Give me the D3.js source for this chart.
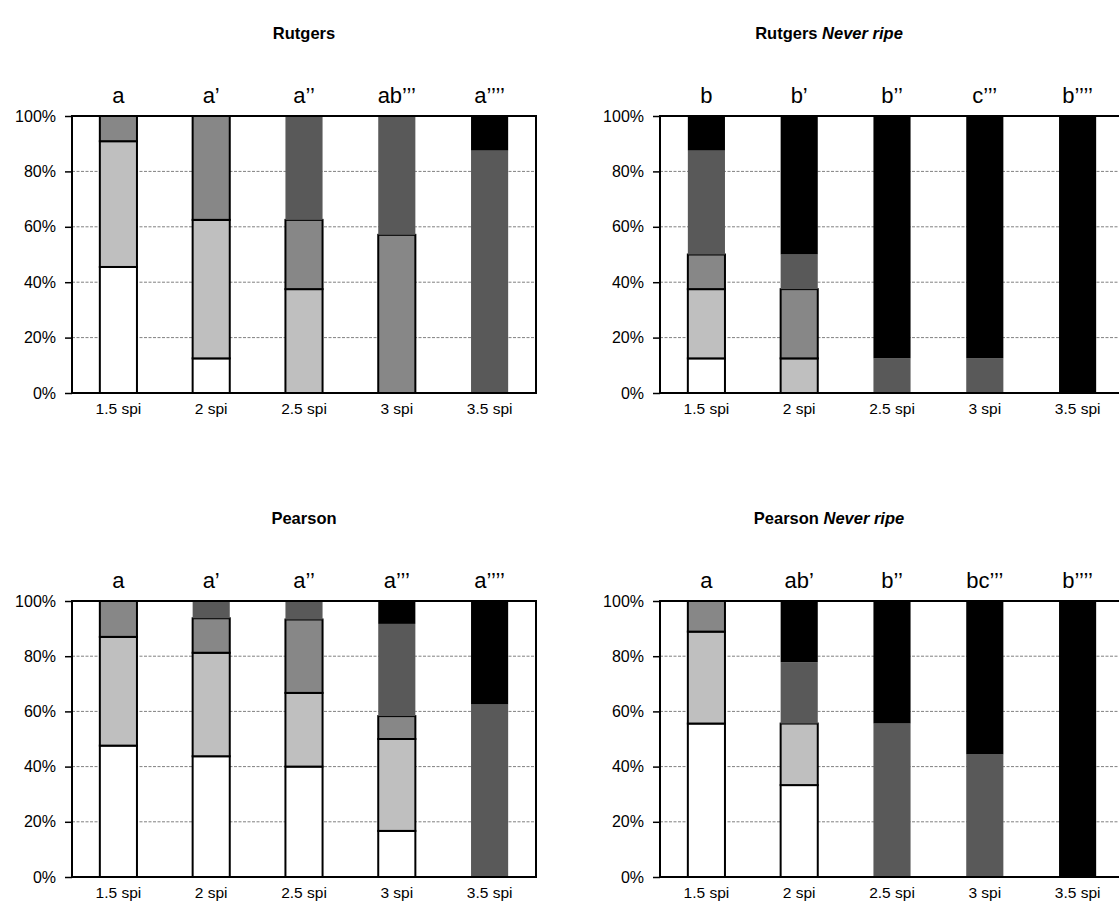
<!DOCTYPE html>
<html>
<head>
<meta charset="utf-8">
<script src="https://cdn.jsdelivr.net/npm/d3@7"></script>
<style>
  body { margin: 0; background: #fff; }
  svg text { font-family: "Liberation Sans", Arial, sans-serif; fill: #000; }
</style>
</head>
<body>
<svg id="chart" width="1119" height="909"></svg>
<script>
// Time points (spikelets per inflorescence) shared by all four panels
const categories = ["1.5 spi", "2 spi", "2.5 spi", "3 spi", "3.5 spi"];
// Ripening stages, bottom to top of each stack
const stageKeys = ["s1", "s2", "s3", "s4", "s5"];
const stageColors = ["#ffffff", "#bfbfbf", "#878787", "#595959", "#000000"];
const stageOutlined = [true, true, true, false, false];
const yTicks = [0, 0.2, 0.4, 0.6, 0.8, 1];

// Percentage of fruits in each stage; one row per time point, stages s1..s5
const rutgersValues = [
  [45.5, 45.4, 9.1, 0, 0],
  [12.5, 50, 37.5, 0, 0],
  [0, 37.5, 25, 37.5, 0],
  [0, 0, 57.1, 42.9, 0],
  [0, 0, 0, 87.5, 12.5]
];
const rutgersNrValues = [
  [12.5, 25, 12.5, 37.5, 12.5],
  [0, 12.5, 25, 12.5, 50],
  [0, 0, 0, 12.5, 87.5],
  [0, 0, 0, 12.5, 87.5],
  [0, 0, 0, 0, 100]
];
const pearsonValues = [
  [47.6, 39.4, 13, 0, 0],
  [43.75, 37.5, 12.5, 6.25, 0],
  [40, 26.7, 26.6, 6.7, 0],
  [16.7, 33.3, 8.3, 33.4, 8.3],
  [0, 0, 0, 62.5, 37.5]
];
const pearsonNrValues = [
  [55.6, 33.3, 11.1, 0, 0],
  [33.3, 22.3, 0, 22.2, 22.2],
  [0, 0, 0, 55.6, 44.4],
  [0, 0, 0, 44.4, 55.6],
  [0, 0, 0, 0, 100]
];

// Significance letters above each bar
const rutgersLetters = ["a", "a’", "a’’", "ab’’’", "a’’’’"];
const rutgersNrLetters = ["b", "b’", "b’’", "c’’’", "b’’’’"];
const pearsonLetters = ["a", "a’", "a’’", "a’’’", "a’’’’"];
const pearsonNrLetters = ["a", "ab’", "b’’", "bc’’’", "b’’’’"];

const svg = d3.select("#chart");

function drawPanel(p) {
  const g = svg.append("g");
  const x = d3.scaleBand().domain(categories)
    .range([p.left, p.left + p.width])
    .paddingInner(0.6).paddingOuter(0.3);
  const y = d3.scaleLinear().domain([0, 1]).range([p.top + p.height, p.top]);

  // dashed horizontal gridlines
  g.append("g").selectAll("line")
    .data(yTicks.filter(t => t > 0 && t < 1))
    .join("line")
    .attr("x1", p.left).attr("x2", p.left + p.width)
    .attr("y1", d => y(d)).attr("y2", d => y(d))
    .attr("stroke", "#808080").attr("stroke-width", 1)
    .attr("stroke-dasharray", "3,1.5");

  const rows = categories.map((c, i) => {
    const r = { cat: c };
    stageKeys.forEach((k, j) => r[k] = p.values[i][j] / 100);
    return r;
  });
  const series = d3.stack().keys(stageKeys)(rows);

  series.forEach((s, si) => {
    g.append("g").selectAll("rect")
      .data(s.filter(d => d[1] - d[0] > 0))
      .join("rect")
      .attr("x", d => x(d.data.cat))
      .attr("width", x.bandwidth())
      .attr("y", d => y(d[1]))
      .attr("height", d => y(d[0]) - y(d[1]))
      .attr("fill", stageColors[si])
      .attr("stroke", stageOutlined[si] ? "#000" : "none")
      .attr("stroke-width", 2);
  });

  // plot frame
  g.append("rect")
    .attr("x", p.left).attr("y", p.top)
    .attr("width", p.width).attr("height", p.height)
    .attr("fill", "none").attr("stroke", "#000").attr("stroke-width", 2);

  // y axis
  const ya = g.append("g").attr("transform", `translate(${p.left},0)`)
    .call(d3.axisLeft(y).tickValues(yTicks).tickFormat(d3.format(".0%"))
      .tickSize(7).tickPadding(9));
  ya.select(".domain").remove();
  ya.selectAll(".tick line").attr("stroke", "#000").attr("stroke-width", 1.5);
  ya.selectAll("text").attr("font-size", 16).attr("fill", "#222")
    .style("font-family", "'Liberation Sans', Arial, sans-serif");

  // x axis labels
  const xa = g.append("g").attr("transform", `translate(0,${p.top + p.height})`)
    .call(d3.axisBottom(x).tickSize(0).tickPadding(10));
  xa.select(".domain").remove();
  xa.selectAll("text").attr("font-size", 15.5).attr("fill", "#222")
    .style("font-family", "'Liberation Sans', Arial, sans-serif");

  // significance letters
  g.append("g").selectAll("text")
    .data(p.letters)
    .join("text")
    .attr("x", (d, i) => x(categories[i]) + x.bandwidth() / 2)
    .attr("y", p.top - 13)
    .attr("text-anchor", "middle")
    .attr("font-size", 22)
    .text(d => d);

  // title
  const t = g.append("text")
    .attr("x", p.titleX).attr("y", p.top - 77)
    .attr("text-anchor", "middle")
    .attr("font-size", 16.5).attr("font-weight", "bold");
  t.append("tspan").text(p.title);
  if (p.italic) t.append("tspan").attr("font-style", "italic").text(" " + p.italic);
}

const W = 464, H = 277;
drawPanel({ left: 72, top: 116, width: W, height: H, titleX: 304,
  title: "Rutgers", values: rutgersValues, letters: rutgersLetters });
drawPanel({ left: 660, top: 116, width: W, height: H, titleX: 829,
  title: "Rutgers", italic: "Never ripe", values: rutgersNrValues, letters: rutgersNrLetters });
drawPanel({ left: 72, top: 601, width: W, height: 276, titleX: 304,
  title: "Pearson", values: pearsonValues, letters: pearsonLetters });
drawPanel({ left: 660, top: 601, width: W, height: 276, titleX: 829,
  title: "Pearson", italic: "Never ripe", values: pearsonNrValues, letters: pearsonNrLetters });
</script>
</body>
</html>
